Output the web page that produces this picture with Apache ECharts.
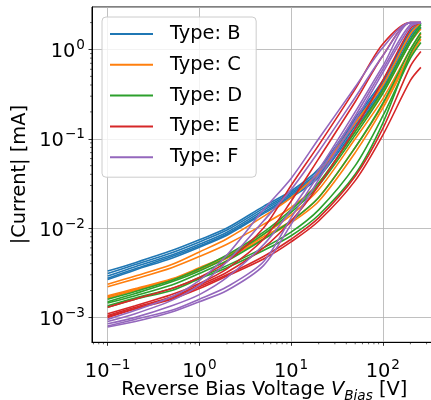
<!DOCTYPE html>
<html>
<head>
<meta charset="utf-8">
<script src="https://cdn.jsdelivr.net/npm/echarts@6/dist/echarts.min.js"></script>
<style>
  html, body { margin: 0; padding: 0; background: #fff; }
  #chart { width: 431px; height: 400px; }
</style>
</head>
<body>
<div id="chart"></div>
<script>
// bias voltage points [V]
const voltages = [0.1, 0.2, 0.5, 1, 2, 5, 10, 20, 50, 100, 200, 260];

// |current| [mA], one row per sensor
const typeB = [
  [3.3e-3, 4.1e-3, 5.6e-3, 7.4e-3, 1.0e-2, 0.0175, 0.026, 0.046, 0.17, 0.45, 1.6, 2.0],
  [3.1e-3, 3.9e-3, 5.3e-3, 7.0e-3, 9.5e-3, 0.0166, 0.025, 0.043, 0.16, 0.42, 1.5, 2.0],
  [2.9e-3, 3.7e-3, 5.0e-3, 6.6e-3, 9.0e-3, 0.0158, 0.024, 0.041, 0.15, 0.40, 1.4, 2.0],
  [2.75e-3, 3.5e-3, 4.8e-3, 6.3e-3, 8.6e-3, 0.0150, 0.023, 0.039, 0.14, 0.37, 1.3, 1.9],
  [2.65e-3, 3.4e-3, 4.6e-3, 6.1e-3, 8.3e-3, 0.0145, 0.022, 0.037, 0.13, 0.35, 1.2, 1.75]
];
const typeC = [
  [2.35e-3, 2.9e-3, 3.9e-3, 5.4e-3, 7.6e-3, 0.0135, 0.022, 0.042, 0.15, 0.40, 1.5, 2.0],
  [2.2e-3, 2.7e-3, 3.6e-3, 4.8e-3, 6.6e-3, 0.0110, 0.017, 0.032, 0.12, 0.33, 1.2, 1.7],
  [1.75e-3, 2.1e-3, 2.7e-3, 3.6e-3, 4.9e-3, 8.5e-3, 0.014, 0.027, 0.10, 0.28, 1.0, 1.5],
  [1.7e-3, 2.05e-3, 2.65e-3, 3.5e-3, 4.7e-3, 8.0e-3, 0.012, 0.022, 0.080, 0.24, 0.9, 1.4],
  [1.65e-3, 2.0e-3, 2.6e-3, 3.4e-3, 4.6e-3, 7.6e-3, 0.0115, 0.020, 0.070, 0.22, 0.85, 1.3]
];
const typeD = [
  [1.6e-3, 1.95e-3, 2.6e-3, 3.5e-3, 5.0e-3, 9.0e-3, 0.016, 0.032, 0.12, 0.35, 1.3, 1.9],
  [1.5e-3, 1.85e-3, 2.5e-3, 3.3e-3, 4.7e-3, 8.5e-3, 0.015, 0.030, 0.11, 0.32, 1.2, 1.8],
  [1.45e-3, 1.75e-3, 2.3e-3, 3.1e-3, 4.3e-3, 7.5e-3, 0.012, 0.022, 0.08, 0.25, 1.0, 1.55],
  [1.35e-3, 1.65e-3, 2.1e-3, 2.8e-3, 3.8e-3, 6.0e-3, 0.0090, 0.016, 0.05, 0.18, 0.8, 1.2],
  [1.3e-3, 1.6e-3, 2.0e-3, 2.7e-3, 3.6e-3, 5.6e-3, 0.0082, 0.014, 0.04, 0.15, 0.9, 1.4]
];
const typeE = [
  [1.3e-3, 1.6e-3, 2.1e-3, 2.8e-3, 4.2e-3, 0.010, 0.030, 0.085, 0.36, 1.15, 2.0, 2.0],
  [1.1e-3, 1.35e-3, 1.8e-3, 2.4e-3, 3.5e-3, 7.5e-3, 0.020, 0.060, 0.26, 0.85, 2.0, 2.0],
  [1.05e-3, 1.3e-3, 1.7e-3, 2.3e-3, 3.2e-3, 6.0e-3, 0.012, 0.030, 0.13, 0.45, 1.7, 2.0],
  [1.0e-3, 1.25e-3, 1.65e-3, 2.2e-3, 3.0e-3, 4.8e-3, 7.5e-3, 0.013, 0.038, 0.13, 0.65, 0.95],
  [1.02e-3, 1.25e-3, 1.6e-3, 2.1e-3, 2.9e-3, 4.5e-3, 7.0e-3, 0.012, 0.034, 0.11, 0.45, 0.63]
];
const typeF = [
  [0.95e-3, 1.2e-3, 1.7e-3, 2.6e-3, 5.0e-3, 0.016, 0.036, 0.10, 0.38, 1.05, 2.0, 2.0],
  [0.9e-3, 1.1e-3, 1.55e-3, 2.3e-3, 4.2e-3, 0.012, 0.027, 0.072, 0.29, 0.85, 2.0, 2.0],
  [0.85e-3, 1.0e-3, 1.35e-3, 1.8e-3, 2.8e-3, 6.5e-3, 0.016, 0.045, 0.2, 0.65, 2.0, 2.0],
  [0.8e-3, 0.95e-3, 1.2e-3, 1.6e-3, 2.2e-3, 4.2e-3, 0.013, 0.040, 0.18, 0.6, 1.9, 2.0],
  [0.78e-3, 0.9e-3, 1.15e-3, 1.5e-3, 2.0e-3, 3.8e-3, 0.011, 0.035, 0.16, 0.55, 1.8, 2.0]
];

const typeNames = ['Type: B', 'Type: C', 'Type: D', 'Type: E', 'Type: F'];
const typeColors = ['#1f77b4', '#ff7f0e', '#2ca02c', '#d62728', '#9467bd'];
const allTypes = [typeB, typeC, typeD, typeE, typeF];

// axis ranges (matplotlib style margins)
const X_MIN = 0.0675, X_MAX = 385;
const Y_MIN = 5.26e-4, Y_MAX = 2.99;

const FONT = 'DejaVu Sans';

// minor tick positions 2..9 x 10^k
const minorX = [], minorY = [];
for (let k = -3; k <= 2; k++) {
  for (let m = 2; m <= 9; m++) {
    const v = m * Math.pow(10, k);
    if (v > X_MIN && v < X_MAX) minorX.push([v, Y_MIN]);
    if (v > Y_MIN && v < Y_MAX) minorY.push([X_MIN, v]);
  }
}

function powLabel(v) {
  const e = Math.round(Math.log10(v));
  if (Math.abs(v - Math.pow(10, e)) / Math.pow(10, e) > 1e-6) return '';
  return '{b|10}{s|' + (e < 0 ? '\u2212' + (-e) : e) + '}';
}

const labelRich = {
  b: { fontFamily: FONT, fontSize: 19.4, color: '#000', lineHeight: 24, verticalAlign: 'bottom' },
  s: { fontFamily: FONT, fontSize: 13.6, color: '#000', lineHeight: 24, verticalAlign: 'bottom', padding: [0, 0, 9, 1] }
};

let series = [];
allTypes.forEach((rows, t) => {
  rows.forEach(r => {
    series.push({
      name: typeNames[t],
      type: 'line',
      data: voltages.map((v, i) => [v, r[i]]),
      symbol: 'none',
      smooth: 0.3,
      lineStyle: { width: 1.6, color: typeColors[t] },
      itemStyle: { color: typeColors[t] }
    });
  });
});

// minor ticks as small marks placed by the axes' own scales
series.push({
  type: 'custom',
  data: minorX,
  clip: false,
  silent: true,
  renderItem(params, api) {
    const p = api.coord([api.value(0), api.value(1)]);
    return { type: 'line', shape: { x1: p[0], y1: p[1], x2: p[0], y2: p[1] + 2 }, style: { stroke: '#000', lineWidth: 0.6 } };
  }
});
series.push({
  type: 'custom',
  data: minorY,
  clip: false,
  silent: true,
  renderItem(params, api) {
    const p = api.coord([api.value(0), api.value(1)]);
    return { type: 'line', shape: { x1: p[0], y1: p[1], x2: p[0] - 2, y2: p[1] }, style: { stroke: '#000', lineWidth: 0.6 } };
  }
});

const chart = echarts.init(document.getElementById('chart'), null, { renderer: 'canvas' });
chart.setOption({
  animation: false,
  backgroundColor: '#fff',
  grid: {
    left: 92, top: 7, right: -5.5, bottom: 57.7,
    show: true, borderColor: '#000', borderWidth: 1,
    outerBoundsMode: 'none'
  },
  legend: {
    data: typeNames,
    icon: 'rect',
    orient: 'vertical',
    left: 102, top: 17,
    itemWidth: 43, itemHeight: 2, itemGap: 10.8,
    padding: [7, 14, 10, 8],
    backgroundColor: 'rgba(255,255,255,0.8)',
    borderColor: '#cccccc', borderWidth: 1, borderRadius: 4,
    textStyle: { fontFamily: FONT, fontSize: 19.4, color: '#000', lineHeight: 20, padding: [0, 0, 0, 12] }
  },
  xAxis: {
    type: 'log', logBase: 10,
    min: X_MIN, max: X_MAX,
    name: '{n|Reverse Bias Voltage }{i|V}{sub|Bias}{n| [V]}',
    nameLocation: 'middle', nameGap: 33, nameMoveOverlap: false,
    nameTextStyle: {
      rich: {
        n: { fontFamily: FONT, fontSize: 19.4, color: '#000', lineHeight: 24, verticalAlign: 'bottom' },
        i: { fontFamily: FONT, fontSize: 19.4, fontStyle: 'italic', color: '#000', lineHeight: 24, verticalAlign: 'bottom' },
        sub: { fontFamily: FONT, fontSize: 13.6, fontStyle: 'italic', color: '#000', lineHeight: 24, verticalAlign: 'bottom', padding: [0, 0, -4, 0] }
      }
    },
    axisLine: { show: true, lineStyle: { color: '#000', width: 1 } },
    axisTick: { show: true, length: 3.5, lineStyle: { color: '#000', width: 0.8 } },
    axisLabel: { formatter: powLabel, margin: 15, rich: labelRich, showMinLabel: false, showMaxLabel: false },
    splitLine: { show: true, lineStyle: { color: '#b0b0b0', width: 0.8 } },
    minorTick: { show: false }
  },
  yAxis: {
    type: 'log', logBase: 10,
    min: Y_MIN, max: Y_MAX,
    name: '|Current| [mA]',
    nameLocation: 'middle', nameGap: 63, nameRotate: 90, nameMoveOverlap: false,
    nameTextStyle: { fontFamily: FONT, fontSize: 19.4, color: '#000' },
    axisLine: { show: true, lineStyle: { color: '#000', width: 1 } },
    axisTick: { show: true, length: 3.5, lineStyle: { color: '#000', width: 0.8 } },
    axisLabel: { formatter: powLabel, margin: 7, rich: labelRich, showMinLabel: false, showMaxLabel: false },
    splitLine: { show: true, lineStyle: { color: '#b0b0b0', width: 0.8 } }
  },
  series: series
});
</script>
</body>
</html>
